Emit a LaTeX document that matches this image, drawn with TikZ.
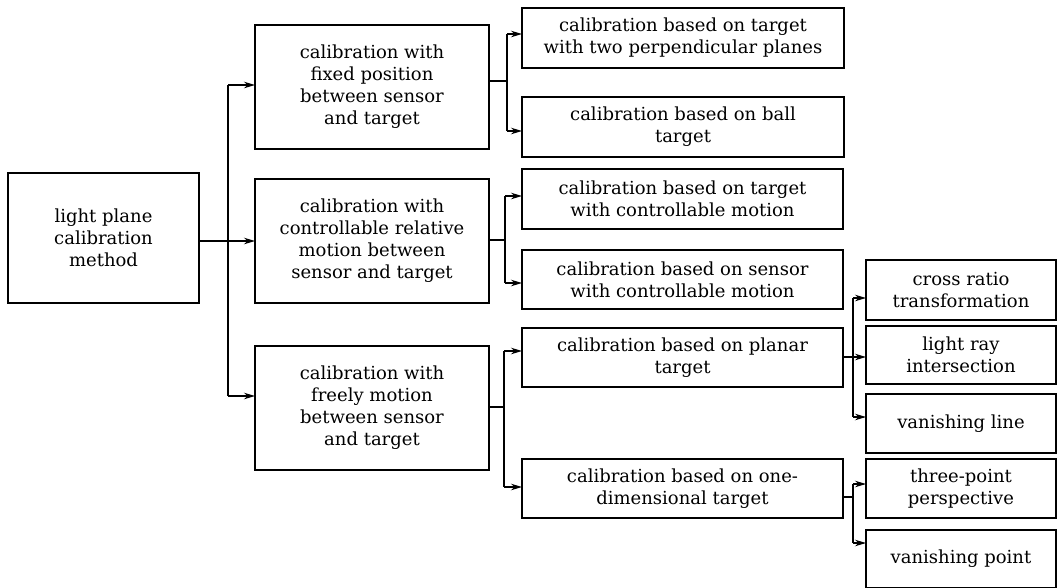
\documentclass[tikz,border=0pt]{standalone}
\usepackage{fontspec}
\setmainfont{DejaVu Serif}
\usetikzlibrary{arrows.meta}
\begin{document}
\begin{tikzpicture}[x=1pt,y=-1pt,
    box/.style={draw,line width=1.6pt,align=center,inner sep=0pt,outer sep=0pt},
    font=\fontsize{18}{22}\selectfont,
    >={Stealth[length=11pt,width=6.5pt,inset=3.5pt]}]
      \useasboundingbox (0,0) rectangle (1058,587);
      \draw
        (103.5,238) node[box,minimum width=191,minimum height=130] (0){light plane\\calibration\\method}
        (372,87) node[box,minimum width=234,minimum height=124] (1){calibration with\\fixed position\\between sensor\\and target}
        (372,241) node[box,minimum width=234,minimum height=124] (2){calibration with\\controllable relative\\motion between\\sensor and target}
        (372,408) node[box,minimum width=234,minimum height=124] (3){calibration with\\freely motion\\between sensor\\and target}
        (683,38) node[box,minimum width=322,minimum height=60] (4){calibration based on target\\with two perpendicular planes}
        (683,127) node[box,minimum width=322,minimum height=60] (5){calibration based on ball\\target}
        (682.5,199) node[box,minimum width=321,minimum height=60] (6){calibration based on target\\with controllable motion}
        (682.5,279.5) node[box,minimum width=321,minimum height=59] (7){calibration based on sensor\\with controllable motion}
        (682.5,357.5) node[box,minimum width=321,minimum height=59] (8){calibration based on planar\\target}
        (682.5,488.5) node[box,minimum width=321,minimum height=59] (9){calibration based on one-\\dimensional target}
        (961,290) node[box,minimum width=190,minimum height=60] (10){cross ratio\\transformation}
        (961,355) node[box,minimum width=190,minimum height=58] (11){light ray\\intersection}
        (961,423.5) node[box,minimum width=190,minimum height=59] (12){vanishing line}
        (961,488.5) node[box,minimum width=190,minimum height=59] (13){three-point\\perspective}
        (961,559) node[box,minimum width=190,minimum height=58] (14){vanishing point};
      % branch points
      \coordinate (j0) at (228,85);
      \coordinate (j1) at (228,241);
      \coordinate (j2) at (228,396);
      \coordinate (a0) at (507,81);
      \coordinate (a1) at (507,34);
      \coordinate (a2) at (507,131);
      \coordinate (b0) at (505,240);
      \coordinate (b1) at (505,196);
      \coordinate (b2) at (505,283);
      \coordinate (c0) at (504,407);
      \coordinate (c1) at (504,351);
      \coordinate (c2) at (504,487);
      \coordinate (d0) at (853,357);
      \coordinate (d1) at (853,298);
      \coordinate (d2) at (853,417);
      \coordinate (e0) at (853,497);
      \coordinate (e1) at (853,484);
      \coordinate (e2) at (853,543);
      \begin{scope}[line width=1.1pt]
        \draw (0.east |- j1) to (j1);
        \draw (j0) to (j2);
        \draw[->] (j0) to (1.west |- j0);
        \draw[->] (j1) to (2.west |- j1);
        \draw[->] (j2) to (3.west |- j2);
        \draw (1.east |- a0) to (a0);
        \draw (a1) to (a2);
        \draw[->] (a1) to (4.west |- a1);
        \draw[->] (a2) to (5.west |- a2);
        \draw (2.east |- b0) to (b0);
        \draw (b1) to (b2);
        \draw[->] (b1) to (6.west |- b1);
        \draw[->] (b2) to (7.west |- b2);
        \draw (3.east |- c0) to (c0);
        \draw (c1) to (c2);
        \draw[->] (c1) to (8.west |- c1);
        \draw[->] (c2) to (9.west |- c2);
        \draw (8.east |- d0) to (d0);
        \draw (d1) to (d2);
        \draw[->] (d1) to (10.west |- d1);
        \draw[->] (d0) to (11.west |- d0);
        \draw[->] (d2) to (12.west |- d2);
        \draw (9.east |- e0) to (e0);
        \draw (e1) to (e2);
        \draw[->] (e1) to (13.west |- e1);
        \draw[->] (e2) to (14.west |- e2);
      \end{scope}
    \end{tikzpicture}
\end{document}
